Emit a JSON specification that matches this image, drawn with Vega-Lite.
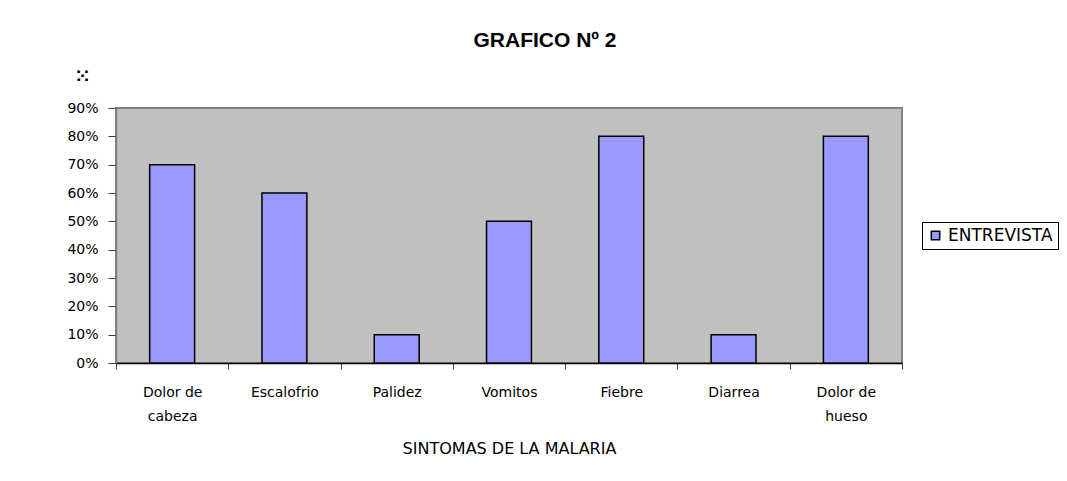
{
  "$schema": "https://vega.github.io/schema/vega-lite/v6.json",
  "autosize": "none",
  "padding": {"left": 116, "top": 108, "right": 165, "bottom": 118},
  "width": 786,
  "height": 255,
  "background": "white",
  "title": {
    "text": "GRAFICO Nº 2",
    "font": "Liberation Sans",
    "fontSize": 21,
    "fontWeight": "bold",
    "color": "#000000",
    "anchor": "middle",
    "dx": 36,
    "baseline": "alphabetic",
    "offset": -1
  },
  "data": {
    "values": [
      {"sintoma": "Dolor de cabeza", "valor": 0.70, "serie": "ENTREVISTA"},
      {"sintoma": "Escalofrio", "valor": 0.60, "serie": "ENTREVISTA"},
      {"sintoma": "Palidez", "valor": 0.10, "serie": "ENTREVISTA"},
      {"sintoma": "Vomitos", "valor": 0.50, "serie": "ENTREVISTA"},
      {"sintoma": "Fiebre", "valor": 0.80, "serie": "ENTREVISTA"},
      {"sintoma": "Diarrea", "valor": 0.10, "serie": "ENTREVISTA"},
      {"sintoma": "Dolor de hueso", "valor": 0.80, "serie": "ENTREVISTA"}
    ]
  },
  "mark": {"type": "bar", "width": {"band": 0.4}, "stroke": "#000000", "strokeWidth": 1.5},
  "encoding": {
    "x": {
      "field": "sintoma",
      "type": "nominal",
      "sort": null,
      "scale": {"paddingInner": 0, "paddingOuter": 0},
      "axis": {
        "title": "SINTOMAS DE LA MALARIA",
        "titleFont": "DejaVu Sans",
        "titleFontSize": 16,
        "titleFontWeight": "normal",
        "titleColor": "#000000",
        "titlePadding": 17,
        "labelAngle": 0,
        "labelFont": "DejaVu Sans",
        "labelFontSize": 14,
        "labelColor": "#000000",
        "labelLineHeight": 24,
        "labelPadding": 16,
        "labelExpr": "indexof(datum.label, ' de ') > 0 ? [slice(datum.label, 0, indexof(datum.label, ' de ') + 3), slice(datum.label, indexof(datum.label, ' de ') + 4)] : datum.label",
        "tickBand": "extent",
        "tickSize": 6,
        "tickColor": "#404040",
        "domainColor": "#000000",
        "domainWidth": 1.5
      }
    },
    "y": {
      "field": "valor",
      "type": "quantitative",
      "scale": {"domain": [0, 0.9], "nice": false},
      "axis": {
        "title": "⁙",
        "titleFont": "DejaVu Sans",
        "titleFontSize": 18,
        "titleFontWeight": "bold",
        "titleColor": "#000000",
        "titleAngle": 0,
        "titleAlign": "center",
        "titleBaseline": "middle",
        "titleX": -34,
        "titleY": -32,
        "values": [0, 0.1, 0.2, 0.3, 0.4, 0.5, 0.6, 0.7, 0.8, 0.9],
        "format": ".0%",
        "grid": false,
        "labelFont": "DejaVu Sans",
        "labelFontSize": 14,
        "labelColor": "#000000",
        "labelPadding": 10,
        "tickSize": 8,
        "tickColor": "#404040",
        "domainColor": "#808080",
        "domainWidth": 1.5
      }
    },
    "color": {
      "field": "serie",
      "type": "nominal",
      "scale": {"range": ["#9999FF"]},
      "legend": {
        "title": null,
        "orient": "none",
        "legendX": 806,
        "legendY": 114,
        "symbolType": "square",
        "symbolSize": 70,
        "symbolStrokeColor": "#000000",
        "symbolStrokeWidth": 1.5,
        "labelFont": "DejaVu Sans",
        "labelFontSize": 17,
        "labelColor": "#000000",
        "labelOffset": 4,
        "strokeColor": "#000000",
        "padding": 5,
        "fillColor": "#FFFFFF"
      }
    }
  },
  "config": {
    "view": {"fill": "#C0C0C0", "stroke": "#808080", "strokeWidth": 2}
  }
}
